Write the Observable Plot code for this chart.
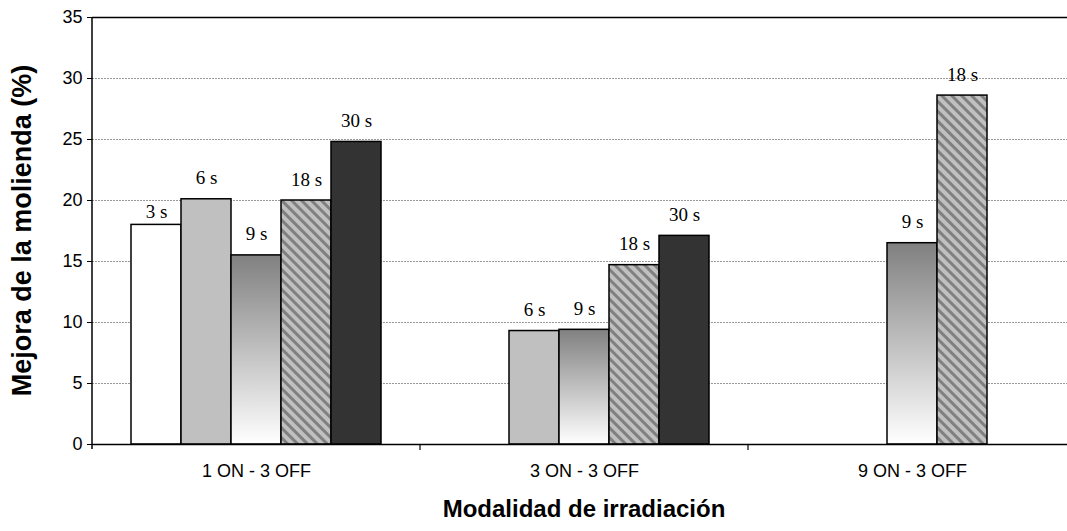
<!DOCTYPE html>
<html><head><meta charset="utf-8">
<script src="https://cdn.jsdelivr.net/npm/d3@7"></script>
<script src="https://cdn.jsdelivr.net/npm/@observablehq/plot@0.6"></script>
<style>
body{margin:0;overflow:hidden;background:#fff}
#chart svg{display:block}
</style>
</head><body><div id="chart"></div>
<script>
const groups = ["1 ON - 3 OFF", "3 ON - 3 OFF", "9 ON - 3 OFF"];
const series = ["3 s", "6 s", "9 s", "18 s", "30 s"];
const values1 = [18.0, 20.1, 15.5, 20.0, 24.8];
const values2 = [null, 9.3, 9.4, 14.7, 17.1];
const values3 = [null, null, 16.5, 28.6, null];
const yTicks = [0, 5, 10, 15, 20, 25, 30, 35];
const fills = ["#ffffff", "#c0c0c0", "url(#grad9)", "url(#hatch18)", "#333333"];
const yTitle = "Mejora de la molienda (%)";
const xTitle = "Modalidad de irradiación";

const data = [];
[values1, values2, values3].forEach((vals, gi) => vals.forEach((v, si) => {
  if (v != null) data.push({group: groups[gi], series: series[si], value: v, fill: fills[si]});
}));

const sans = "Arial, 'Liberation Sans', sans-serif";
const serif = "'Liberation Serif', 'Times New Roman', serif";

const chart = Plot.plot({
  width: 1067, height: 531,
  marginLeft: 92, marginRight: 0, marginTop: 17, marginBottom: 87,
  style: {fontFamily: sans, fontSize: "18px", color: "#000", background: "#fff", overflow: "hidden"},
  fx: {domain: groups, range: [92, 1076], padding: 0, label: null},
  x: {domain: series, paddingInner: 0, paddingOuter: 0.716, axis: null},
  y: {domain: [0, 35], label: null},
  color: {type: "identity"},
  marks: [
    Plot.ruleY(yTicks.slice(1, -1), {stroke: "#999", strokeDasharray: "2,1", strokeWidth: 1}),
    Plot.barY(data, {fx: "group", x: "series", y: "value", fill: "fill", stroke: "#000", strokeWidth: 1.5}),
    Plot.text(data.filter(d => d.series !== series[0]), {fx: "group", x: "series", y: "value", text: "series", dy: -21,
      fontFamily: serif, fontSize: 19}),
    Plot.text(data.filter(d => d.series === series[0]), {fx: "group", x: "series", y: "value", text: "series", dy: -13,
      fontFamily: serif, fontSize: 19}),
    Plot.ruleY([0, 35], {stroke: "#000", strokeWidth: 1.5}),
    Plot.axisY({ticks: yTicks, tickSize: 5, tickPadding: 5, fontSize: 18, label: null}),
    Plot.axisFx({anchor: "bottom", tickSize: 0, tickPadding: 20, fontSize: 18, label: null})
  ]
});

const svg = d3.select(chart);
const defs = svg.insert("defs", ":first-child");
const g = defs.append("linearGradient").attr("id", "grad9").attr("x1", 0).attr("y1", 0).attr("x2", 0).attr("y2", 1);
g.append("stop").attr("offset", "0%").attr("stop-color", "#808080");
g.append("stop").attr("offset", "100%").attr("stop-color", "#ffffff");
const p = defs.append("pattern").attr("id", "hatch18").attr("patternUnits", "userSpaceOnUse")
  .attr("width", 7).attr("height", 7).attr("patternTransform", "rotate(-45)");
p.append("rect").attr("width", 7).attr("height", 7).attr("fill", "#c0c0c0");
p.append("rect").attr("width", 3).attr("height", 7).attr("fill", "#808080");

// axis lines derived from the library's scales
const fx = chart.scale("fx"), y = chart.scale("y");
const y0 = y.apply(0), y35 = y.apply(35);
svg.append("line").attr("x1", fx.apply(groups[0])).attr("x2", fx.apply(groups[0]))
  .attr("y1", y0 + 5).attr("y2", y35).attr("stroke", "#000").attr("stroke-width", 1.5);
groups.slice(1).forEach(gr => {
  const xx = fx.apply(gr);
  svg.append("line").attr("x1", xx).attr("x2", xx).attr("y1", y0).attr("y2", y0 + 6)
    .attr("stroke", "#000").attr("stroke-width", 1.2);
});
// titles
svg.append("text").attr("transform", `translate(22,${(y0 + y35) / 2}) rotate(-90)`)
  .attr("text-anchor", "middle").attr("dominant-baseline", "central")
  .attr("font-weight", "bold").attr("font-size", 27).attr("font-family", sans).text(yTitle);
svg.append("text").attr("x", (fx.apply(groups[0]) + fx.apply(groups[2]) + fx.bandwidth) / 2).attr("y", 508)
  .attr("text-anchor", "middle").attr("dominant-baseline", "central")
  .attr("font-weight", "bold").attr("font-size", 24).attr("font-family", sans).text(xTitle);

document.getElementById("chart").appendChild(chart);
</script>
</body></html>
